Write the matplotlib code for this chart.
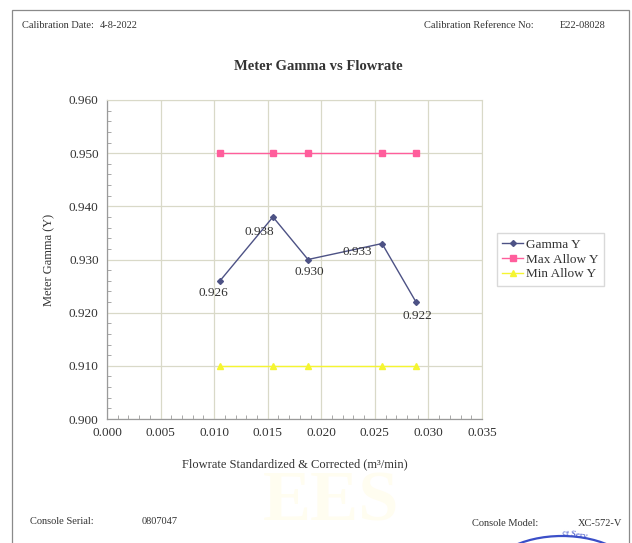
import matplotlib
matplotlib.use("Agg")
import matplotlib.pyplot as plt
import matplotlib.patches as mpatches
from matplotlib.ticker import MultipleLocator, FormatStrFormatter

plt.rcParams['font.family'] = ['Liberation Serif', 'DejaVu Serif']

# data
flow = [0.01055, 0.01549, 0.01876, 0.02567, 0.02884]
gamma = [0.926, 0.938, 0.930, 0.933, 0.922]
max_allow = [0.950, 0.950, 0.950, 0.950, 0.950]
min_allow = [0.910, 0.910, 0.910, 0.910, 0.910]
gamma_labels = ['0.926', '0.938', '0.930', '0.933', '0.922']
# label offsets in points (dx, dy)
label_offsets = [(-5, -9), (-10, -11), (1, -9), (-18, -6), (1, -10)]

fig = plt.figure(figsize=(6.32, 5.43), dpi=100)

# page frame
fig.add_artist(mpatches.Rectangle((12/632, -0.1), (629-12)/632, 1.1 - 10/543,
                                  transform=fig.transFigure, fill=False,
                                  edgecolor='#8a8a8a', linewidth=0.9))

# watermark (very faint)
fig.text(331/632, 1 - 503/543, 'EES', fontsize=52, fontweight='bold',
         color='#fffdf0', ha='center', va='center', zorder=0)

# stamp fragment at bottom right
stamp = mpatches.Ellipse((562/632, 1 - 578/543), 150/632, 84/543,
                         transform=fig.transFigure, fill=False,
                         edgecolor='#3b4fc8', linewidth=1.6)
fig.add_artist(stamp)
fig.text(575/632, 1 - 535/543, 'ct Serv', fontsize=6.5, color='#3b4fc8',
         ha='center', va='center', rotation=-8)

# header / footer
hc = '#333333'
fig.text(22/632, 1 - 26/543, 'Calibration Date:', fontsize=7.5, color=hc, va='center')
fig.text(100/632, 1 - 26/543, '4-8-2022', fontsize=7.5, color=hc, va='center')
fig.text(424/632, 1 - 26/543, 'Calibration Reference No:', fontsize=7.5, color=hc, va='center')
fig.text(560/632, 1 - 26/543, 'E22-08028', fontsize=7.5, color=hc, va='center')
fig.text(30/632, 1 - 522/543, 'Console Serial:', fontsize=7.5, color=hc, va='center')
fig.text(142/632, 1 - 522/543, '0807047', fontsize=7.5, color=hc, va='center')
fig.text(472/632, 1 - 524/543, 'Console Model:', fontsize=7.5, color=hc, va='center')
fig.text(578/632, 1 - 524/543, 'XC-572-V', fontsize=7.5, color=hc, va='center')

fig.text(318/632, 1 - 66/543, 'Meter Gamma vs Flowrate', fontsize=10.5,
         fontweight='bold', color=hc, ha='center', va='center')

ax = fig.add_axes([107/632, 1 - 419/543, (482 - 107)/632, (419 - 100)/543])

ax.plot(flow, gamma, color='#4d5285', linewidth=1.0, marker='D', markersize=3,
        label='Gamma Y', zorder=3)
ax.plot(flow, max_allow, color='#ff5e9c', linewidth=1.0, marker='s', markersize=4,
        label='Max Allow Y', zorder=3)
ax.plot(flow, min_allow, color='#f5f531', linewidth=1.0, marker='^', markersize=4,
        label='Min Allow Y', zorder=3)

for x, y, t, off in zip(flow, gamma, gamma_labels, label_offsets):
    ax.annotate(t, (x, y), xytext=off, textcoords='offset points',
                ha='center', va='center', fontsize=9.5, color=hc, zorder=4)

ax.set_xlim(0, 0.035)
ax.set_ylim(0.900, 0.960)
ax.xaxis.set_major_locator(MultipleLocator(0.005))
ax.xaxis.set_minor_locator(MultipleLocator(0.001))
ax.yaxis.set_major_locator(MultipleLocator(0.010))
ax.yaxis.set_minor_locator(MultipleLocator(0.002))
ax.xaxis.set_major_formatter(FormatStrFormatter('%.3f'))
ax.yaxis.set_major_formatter(FormatStrFormatter('%.3f'))

ax.grid(True, which='major', color='#d9d9c8', linewidth=0.9)
ax.set_axisbelow(True)
for side in ['top', 'right']:
    ax.spines[side].set_color('#d9d9c8')
for side in ['left', 'bottom']:
    ax.spines[side].set_color('#9a9a9a')
    ax.spines[side].set_linewidth(0.9)

ax.tick_params(which='major', direction='in', length=0, labelsize=9.5,
               labelcolor=hc, pad=6)
ax.tick_params(which='minor', direction='in', length=3, color='#9a9a9a')

ax.set_xlabel('Flowrate Standardized & Corrected (m\u00b3/min)', fontsize=9,
              color=hc, labelpad=14)
ax.set_ylabel('Meter Gamma (Y)', fontsize=9, color=hc, labelpad=10)

leg = ax.legend(loc='center left', bbox_to_anchor=(1.04, 0.5), fontsize=9.5,
                frameon=True, fancybox=False, edgecolor='#d0d0d0',
                handlelength=1.6, handletextpad=0.2, borderpad=0.4,
                labelspacing=0.2, borderaxespad=0)
for t in leg.get_texts():
    t.set_color(hc)

fig.savefig('out.png', dpi=100)
